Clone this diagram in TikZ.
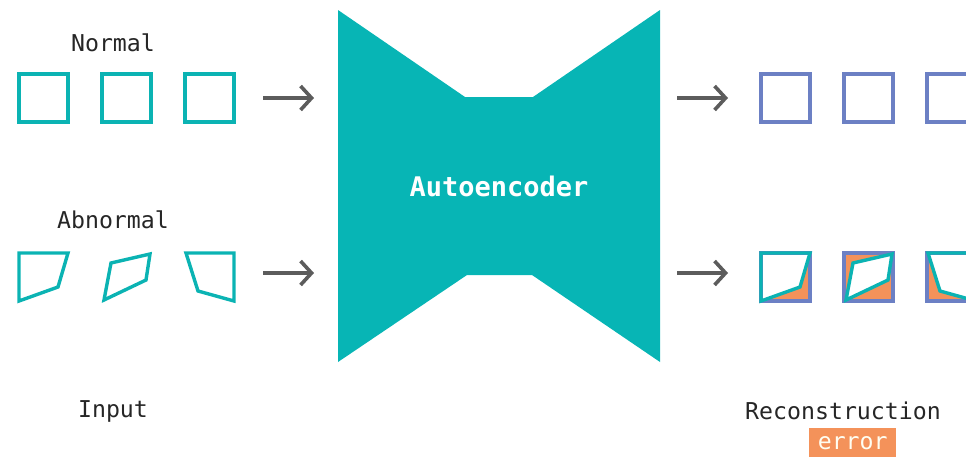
\documentclass[tikz,border=0pt]{standalone}
\usepackage{fontspec}
\setmonofont{DejaVu Sans Mono}
\usetikzlibrary{arrows.meta}
\definecolor{teal}{HTML}{0BB3B3}
\definecolor{aefill}{HTML}{07B5B5}
\definecolor{recblue}{HTML}{6C80C4}
\definecolor{errorange}{HTML}{F4925A}
\definecolor{arrowgray}{HTML}{5C5C5C}
\tikzset{
  label/.style={font=\ttfamily\fontsize{23.2}{26}\selectfont, text=black!85, inner sep=0pt},
  inshape/.style={draw=teal, line width=3.4pt, line join=miter},
  recshape/.style={draw=recblue, line width=3.4pt},
  errfill/.style={fill=errorange, even odd rule},
  flow/.style={draw=arrowgray, line width=3.6pt, -{Straight Barb[length=11pt,width=24pt,line width=3.6pt]}},
}
\begin{document}
\begin{tikzpicture}[x=1pt,y=-1pt]
\useasboundingbox (0,0) rectangle (966,456);
\clip (0,0) rectangle (966,456);

% labels
\node[label] (normal) at (113,43) {Normal};
\node[label] (abnormal) at (113,220) {Abnormal};
\node[label] (input) at (113,411) {Input};
\node[label] (recon) at (843,411) {Reconstruction};
\node[fill=errorange, text=white!95!yellow, font=\ttfamily\fontsize{23.2}{26}\selectfont,
      minimum width=87pt, minimum height=30pt, inner sep=0pt, anchor=north west] (err) at (809,428) {error};

% input: normal squares
\foreach \x in {19,102,185}
  \draw[inshape] (\x,74) rectangle ++(49,48);

% input: abnormal quadrilaterals
\draw[inshape] (19,253) -- (68,253) -- (58,287) -- (19,301) -- cycle;
\draw[inshape] (111,263) -- (150,254) -- (146,280) -- (104,300) -- cycle;
\draw[inshape] (186,253) -- (234,253) -- (234,301) -- (198,291) -- cycle;

% autoencoder body
\fill[aefill] (338,10) -- (465,97) -- (533,97) -- (660,10) -- (660,362)
  -- (532,275) -- (467,275) -- (338,362) -- cycle;
\node[font=\ttfamily\bfseries\fontsize{27}{30}\selectfont, text=white, inner sep=0pt] (ae) at (499,186) {Autoencoder};

% flow arrows
\coordinate (inA) at (263,98);   \coordinate (aeA) at (314,98);
\coordinate (inB) at (263,273);  \coordinate (aeB) at (314,273);
\coordinate (outA) at (677,98);  \coordinate (recA) at (728,98);
\coordinate (outB) at (677,273); \coordinate (recB) at (728,273);
\draw[flow] (inA) -- (aeA);
\draw[flow] (inB) -- (aeB);
\draw[flow] (outA) -- (recA);
\draw[flow] (outB) -- (recB);

% reconstruction: normal squares
\foreach \x in {761,844,927}
  \draw[recshape] (\x,74) rectangle ++(49,48);

% reconstruction: abnormal inputs over their reconstructions, error shaded
\begin{scope}[xshift=742pt]
  \fill[errfill] (19,253) rectangle (68,301) (19,253) -- (68,253) -- (58,287) -- (19,301) -- cycle;
  \draw[recshape] (19,253) rectangle (68,301);
  \draw[inshape] (19,253) -- (68,253) -- (58,287) -- (19,301) -- cycle;

  \fill[errfill] (102,253) rectangle (151,301) (111,263) -- (150,254) -- (146,280) -- (104,300) -- cycle;
  \draw[recshape] (102,253) rectangle (151,301);
  \draw[inshape] (111,263) -- (150,254) -- (146,280) -- (104,300) -- cycle;

  \fill[errfill] (185,253) rectangle (234,301) (186,253) -- (234,253) -- (234,301) -- (198,291) -- cycle;
  \draw[recshape] (185,253) rectangle (234,301);
  \draw[inshape] (186,253) -- (234,253) -- (234,301) -- (198,291) -- cycle;
\end{scope}
\end{tikzpicture}
\end{document}
